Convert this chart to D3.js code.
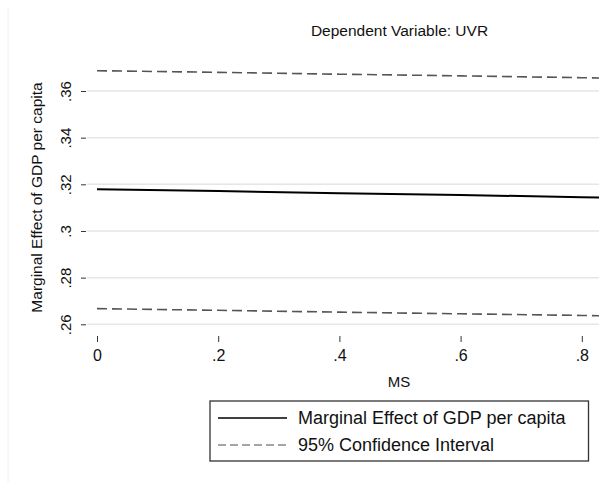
<!DOCTYPE html>
<html>
  <head>
    <style>
      body { margin: 0; background: #fff; }
      svg { display: block; font-family: "Liberation Sans", Arial, sans-serif; }
      .grid line { stroke: #e6e6e6; stroke-width: 1.5; }
    </style>
  </head>
  <body>
    <script src="https://d3js.org/d3.v7.min.js"></script>
    <svg></svg>
    <script>
      // values
      const ms = [0, 0.2, 0.4, 0.6, 0.8, 1.0];
      const effect = [0.3179, 0.3171, 0.3162, 0.3154, 0.3145, 0.3137];
      const upperCI = [0.3687, 0.3680, 0.3672, 0.3665, 0.3657, 0.3650];
      const lowerCI = [0.2667, 0.2660, 0.2652, 0.2645, 0.2638, 0.2630];
      const xTicks = [0, 0.2, 0.4, 0.6, 0.8];
      const yTicks = [0.26, 0.28, 0.3, 0.32, 0.34, 0.36];
      const legendLabels = ["Marginal Effect of GDP per capita", "95% Confidence Interval"];

      const width = 599, height = 482;
      const svg = d3.select("svg").attr("width", width).attr("height", height);

      // plot region runs past the right edge of the picture (cropped)
      const plotLeft = 87, plotRight = 712;
      const x = d3.scaleLinear().domain([0, 1]).range([97, 703]);
      const y = d3.scaleLinear().domain([0.26, 0.36]).range([324.3, 91]);

      // faint outer border on the left
      svg.append("line")
        .attr("x1", 8).attr("x2", 8).attr("y1", 8).attr("y2", 482)
        .attr("stroke", "#f0f0f0").attr("stroke-width", 1);

      // grid lines
      svg.append("g").attr("class", "grid")
        .selectAll("line").data(yTicks).enter().append("line")
        .attr("x1", plotLeft).attr("x2", plotRight)
        .attr("y1", d => y(d)).attr("y2", d => y(d));

      // y axis ticks
      const yAxis = svg.append("g").attr("transform", "translate(86,0)")
        .call(d3.axisLeft(y).tickValues(yTicks).tickSize(5)
          .tickFormat(d => d3.format(".2f")(d).replace(/^0/, "").replace(/0$/, "")));
      yAxis.select(".domain").remove();
      yAxis.selectAll(".tick line").attr("stroke", "#333").attr("stroke-width", 1);
      yAxis.selectAll(".tick text")
        .style("font-size", "15px").style("font-family", "'Liberation Sans', Arial, sans-serif")
        .attr("fill", "#111")
        .attr("x", null)
        .attr("text-anchor", "middle")
        .attr("transform", "translate(-20,0) rotate(-90)")
        .attr("dy", "0.35em");

      // x axis ticks
      const xAxis = svg.append("g").attr("transform", "translate(0,336)")
        .call(d3.axisTop(x).tickValues(xTicks).tickSize(-6)
          .tickFormat(d => d === 0 ? "0" : d3.format(".1f")(d).replace(/^0/, "")));
      xAxis.select(".domain").remove();
      xAxis.selectAll(".tick line").attr("stroke", "#333").attr("stroke-width", 1);
      xAxis.selectAll(".tick text")
        .style("font-size", "16px").style("font-family", "'Liberation Sans', Arial, sans-serif")
        .attr("fill", "#111")
        .attr("y", 25).attr("dy", null);

      // lines
      const line = d3.line().x(d => x(d[0])).y(d => y(d[1]));
      const pairs = arr => ms.map((m, i) => [m, arr[i]]);

      svg.append("path").datum(pairs(upperCI)).attr("d", line)
        .attr("fill", "none").attr("stroke", "#555").attr("stroke-width", 1.6)
        .attr("stroke-dasharray", "10,5");
      svg.append("path").datum(pairs(lowerCI)).attr("d", line)
        .attr("fill", "none").attr("stroke", "#555").attr("stroke-width", 1.6)
        .attr("stroke-dasharray", "10,5");
      svg.append("path").datum(pairs(effect)).attr("d", line)
        .attr("fill", "none").attr("stroke", "#000").attr("stroke-width", 2);

      // titles
      svg.append("text")
        .attr("x", 399.5).attr("y", 36).attr("text-anchor", "middle")
        .style("font-size", "15.5px").attr("fill", "#111")
        .text("Dependent Variable: UVR");
      svg.append("text")
        .attr("x", 399).attr("y", 387).attr("text-anchor", "middle")
        .style("font-size", "15px").attr("fill", "#111")
        .text("MS");
      svg.append("text")
        .attr("transform", "translate(42,197.5) rotate(-90)")
        .attr("text-anchor", "middle")
        .style("font-size", "15.5px").attr("fill", "#111")
        .text("Marginal Effect of GDP per capita");

      // legend
      const legend = svg.append("g");
      legend.append("rect")
        .attr("x", 210).attr("y", 401).attr("width", 378.5).attr("height", 60)
        .attr("fill", "#fff").attr("stroke", "#333").attr("stroke-width", 1.3);
      const rowY = [418, 445];
      legendLabels.forEach((lab, i) => {
        legend.append("line")
          .attr("x1", 218).attr("x2", 287).attr("y1", rowY[i]).attr("y2", rowY[i])
          .attr("stroke", i === 0 ? "#000" : "#888")
          .attr("stroke-width", i === 0 ? 1.6 : 1.3)
          .attr("stroke-dasharray", i === 0 ? null : "8,4");
        legend.append("text")
          .attr("x", 298).attr("y", rowY[i]).attr("dy", "0.35em")
          .style("font-size", "18px").attr("fill", "#111")
          .text(lab);
      });
    </script>
  </body>
</html>
